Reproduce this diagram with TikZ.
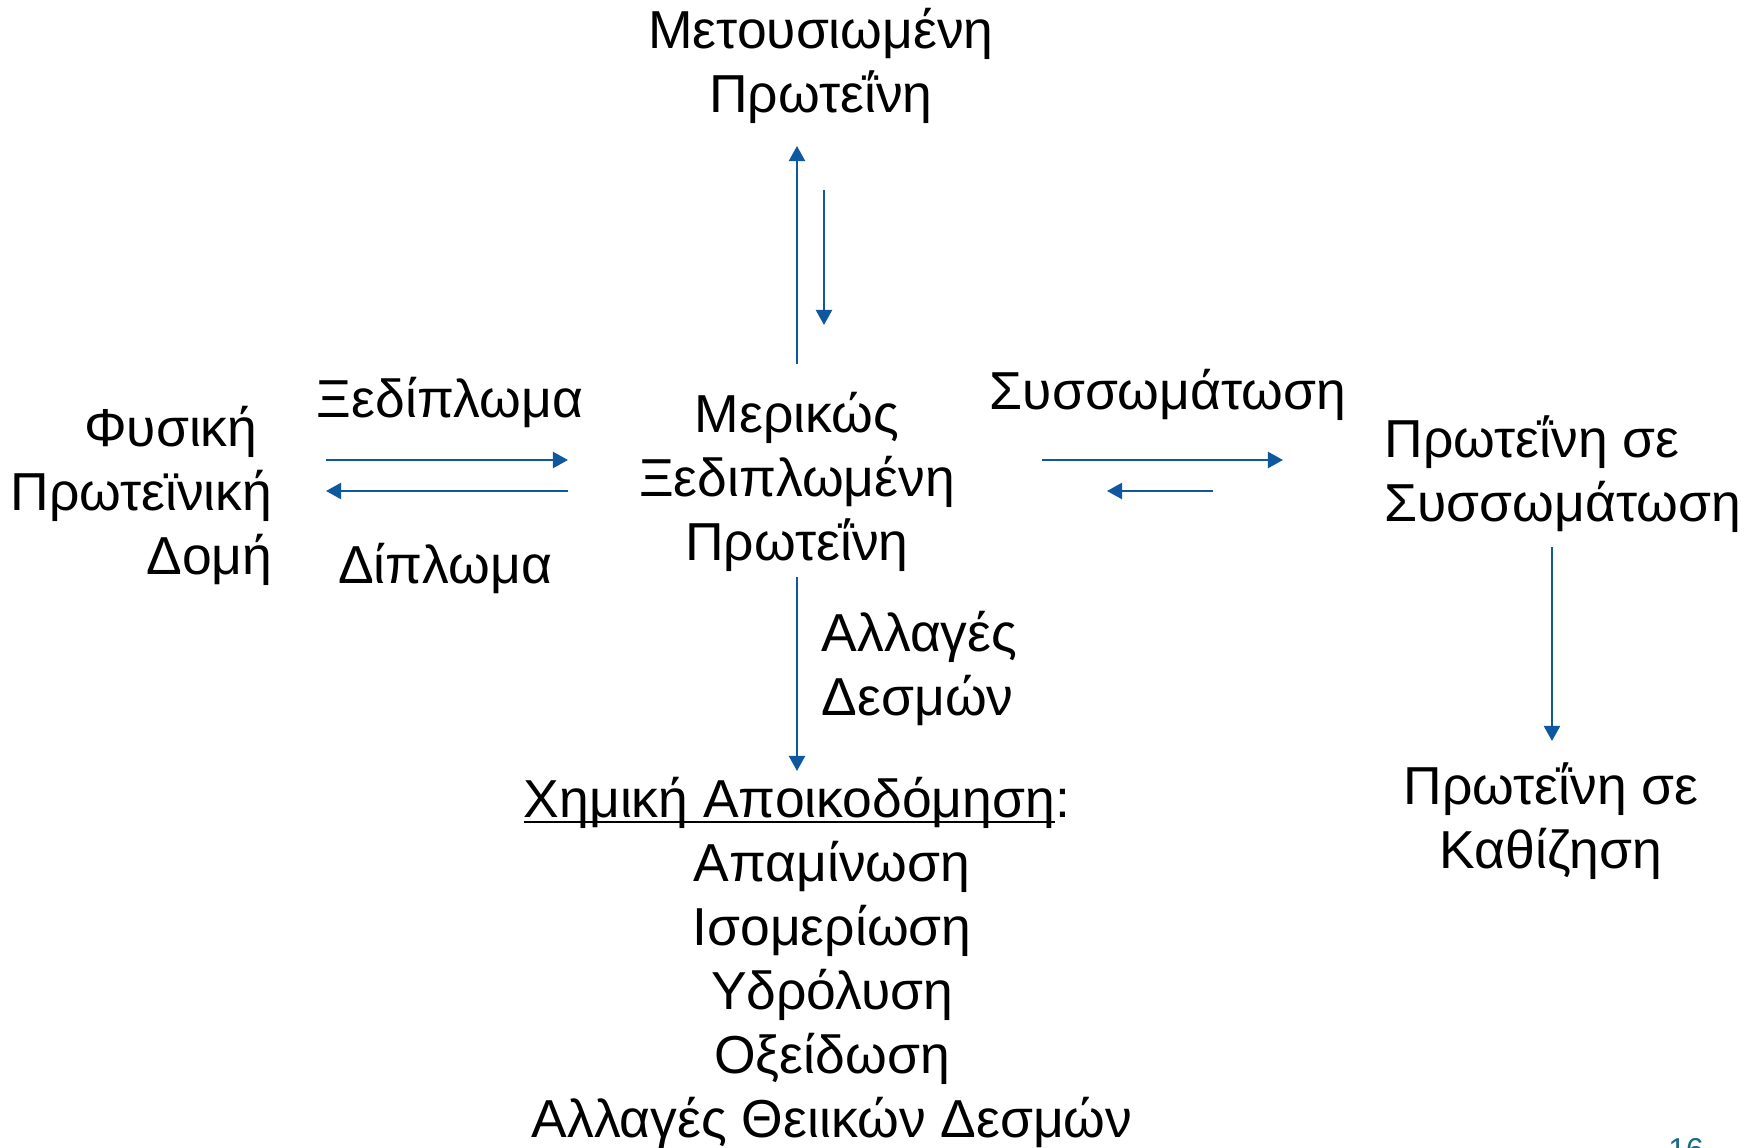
\documentclass[tikz,border=0pt]{standalone}
\usepackage{fontspec}
\setmainfont{Liberation Sans}
\usetikzlibrary{arrows.meta,positioning}
\definecolor{arrowblue}{HTML}{0F589F}
\definecolor{pagenum}{HTML}{1D6A86}
\newcommand\ulword[1]{\setbox0\hbox{#1}\rlap{\rule[-1.6pt]{\wd0}{0.6pt}}\box0}
\tikzset{
     label/.style = {inner sep=0pt, align=center, font=\fontsize{15.2pt}{18.2pt}\selectfont, anchor=base},
     llabel/.style = {label, align=left, anchor=base west},
     rlabel/.style = {label, align=right, anchor=base east},
       arr/.style = {-{Triangle[length=0.15cm,width=0.16cm]}, arrowblue, line width=0.6pt},
        }

\begin{document}
\begin{tikzpicture}[x=0.01cm,y=-0.01cm]
\useasboundingbox (0,0) rectangle (1756,1148);
% states (base = last line)
\node[label] (denat) at (821,112) {Μετουσιωμένη\\Πρωτεΐνη};
\node[rlabel] (native) at (273,574) {Φυσική\hphantom{\ }\\Πρωτεϊνική\\Δομή};
\node[label] (partial) at (797,560) {Μερικώς\\Ξεδιπλωμένη\\Πρωτεΐνη};
\node[llabel] (aggr) at (1384,521) {Πρωτεΐνη σε\\Συσσωμάτωση};
\node[label] (precip) at (1551,868) {Πρωτεΐνη σε\\Καθίζηση};
\node[label] (chem) at (797,817) {\ulword{Χημική Αποικοδόμηση}:};
\node[label] (chemlist) at (832,1137) {Απαμίνωση\\Ισομερίωση\\Υδρόλυση\\Οξείδωση\\Αλλαγές Θειικών Δεσμών};
% arrow labels
\node[label] (unfold) at (450,417) {Ξεδίπλωμα};
\node[label] (fold) at (445,583) {Δίπλωμα};
\node[label] (agglab) at (1168,409) {Συσσωμάτωση};
\node[llabel] (bondlab) at (821,715) {Αλλαγές\\Δεσμών};
\node[inner sep=0pt,anchor=base,text=pagenum,font=\fontsize{9pt}{10pt}\selectfont] (pnum) at (1686,1160) {16};
% arrow ends
\coordinate (u1) at (797,364); \coordinate (u2) at (797,146);
\coordinate (d1) at (824,190); \coordinate (d2) at (824,325);
\coordinate (l1) at (326,460); \coordinate (l2) at (568,460);
\coordinate (l3) at (568,491); \coordinate (l4) at (326,491);
\coordinate (r1) at (1042,460); \coordinate (r2) at (1283,460);
\coordinate (r3) at (1213,491); \coordinate (r4) at (1107,491);
\coordinate (c1) at (797,577); \coordinate (c2) at (797,771);
\coordinate (s1) at (1552,547); \coordinate (s2) at (1552,741);
\draw[arr] (u1) -- (u2);
\draw[arr] (d1) -- (d2);
\draw[arr] (l1) -- (l2);
\draw[arr] (l3) -- (l4);
\draw[arr] (r1) -- (r2);
\draw[arr] (r3) -- (r4);
\draw[arr] (c1) -- (c2);
\draw[arr] (s1) -- (s2);
\end{tikzpicture}
\end{document}
